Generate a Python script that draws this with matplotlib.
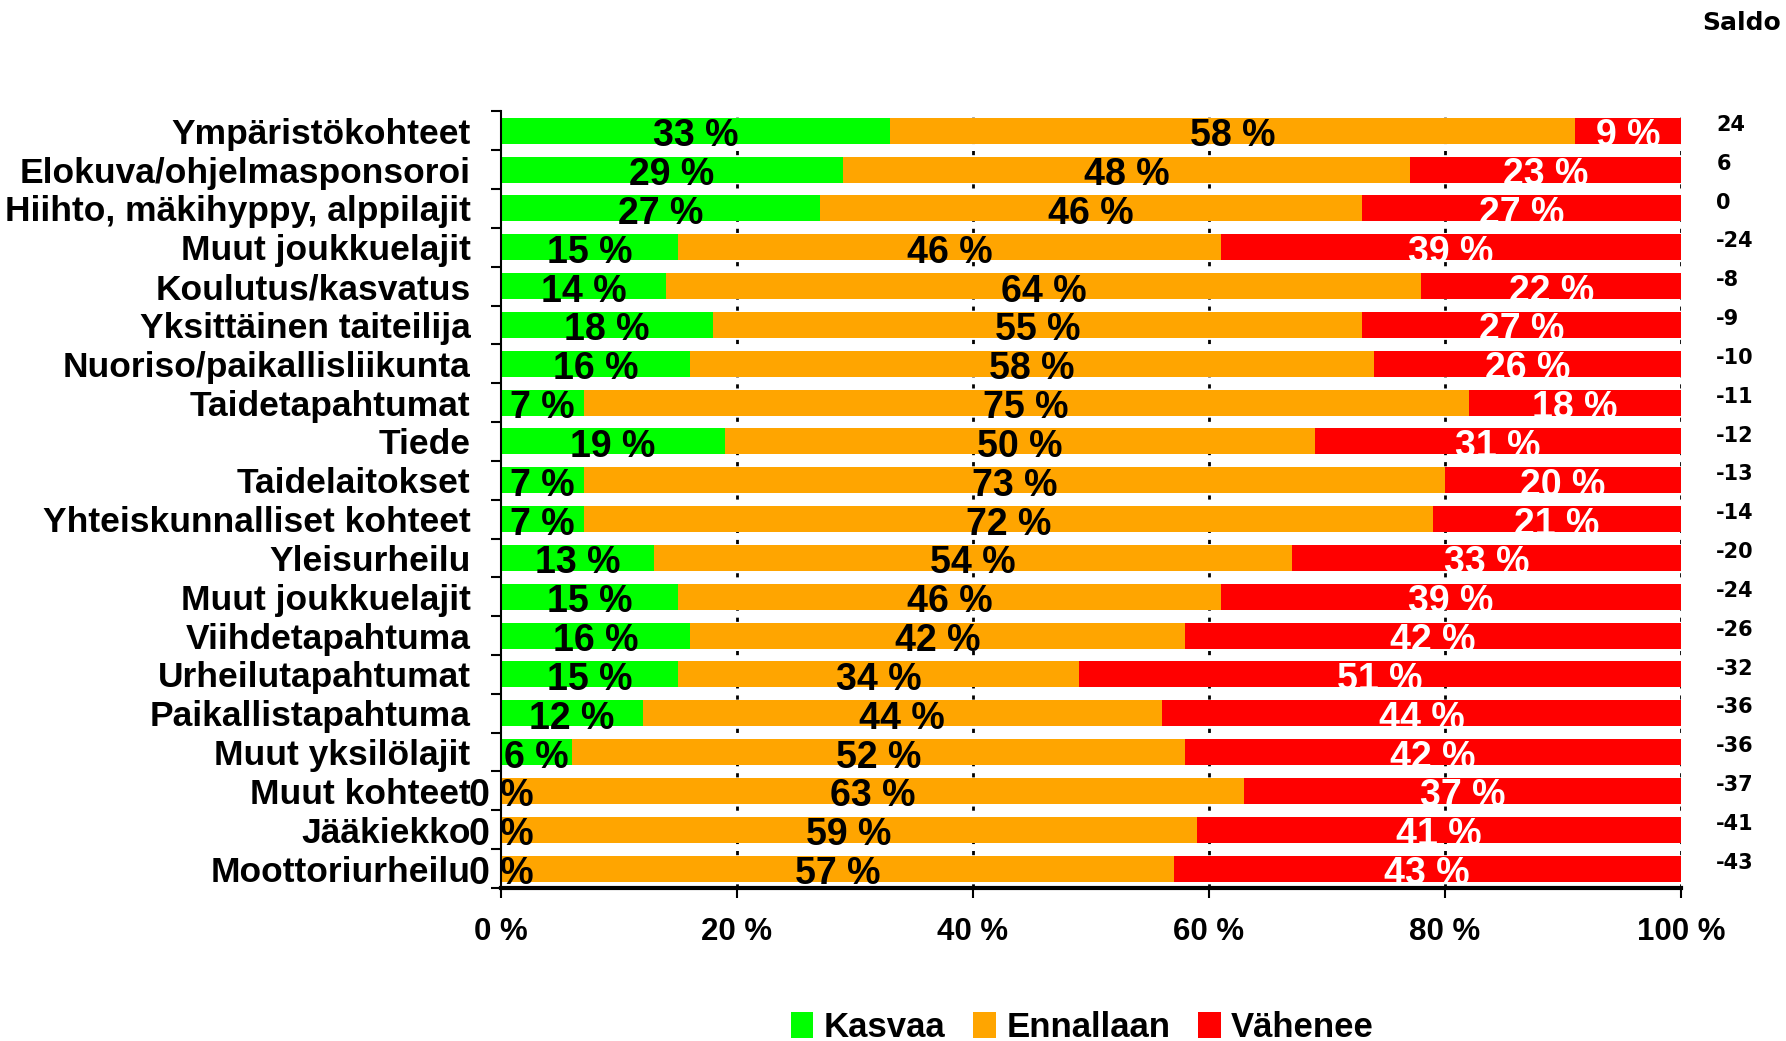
import matplotlib.pyplot as plt
from matplotlib.patches import Patch
from matplotlib.transforms import blended_transform_factory

plt.rcParams['font.family'] = ['Liberation Sans', 'DejaVu Sans']
plt.rcParams['font.weight'] = 'bold'

categories = [
    "Ympäristökohteet", "Elokuva/ohjelmasponsoroi", "Hiihto, mäkihyppy, alppilajit",
    "Muut joukkuelajit", "Koulutus/kasvatus", "Yksittäinen taiteilija",
    "Nuoriso/paikallisliikunta", "Taidetapahtumat", "Tiede", "Taidelaitokset",
    "Yhteiskunnalliset kohteet", "Yleisurheilu", "Muut joukkuelajit",
    "Viihdetapahtuma", "Urheilutapahtumat", "Paikallistapahtuma",
    "Muut yksilölajit", "Muut kohteet", "Jääkiekko", "Moottoriurheilu",
]
kasvaa = [33, 29, 27, 15, 14, 18, 16, 7, 19, 7, 7, 13, 15, 16, 15, 12, 6, 0, 0, 0]
ennallaan = [58, 48, 46, 46, 64, 55, 58, 75, 50, 73, 72, 54, 46, 42, 34, 44, 52, 63, 59, 57]
vahenee = [9, 23, 27, 39, 22, 27, 26, 18, 31, 20, 21, 33, 39, 42, 51, 44, 42, 37, 41, 43]
saldo = [24, 6, 0, -24, -8, -9, -10, -11, -12, -13, -14, -20, -24, -26, -32, -36, -36, -37, -41, -43]

series = [("Kasvaa", kasvaa, "#00FF00", "black"),
          ("Ennallaan", ennallaan, "#FFA500", "black"),
          ("Vähenee", vahenee, "#FF0000", "white")]

fig = plt.figure(figsize=(17.86, 10.41), dpi=100)
ax = fig.add_axes([0.2805, 0.147, 0.6607, 0.746])

y = list(range(len(categories)))
left = [0] * len(categories)
for name, vals, color, tcol in series:
    ax.barh(y, vals, left=left, height=0.67, color=color, zorder=2)
    for i, v in enumerate(vals):
        ax.text(left[i] + v / 2, i + 0.14, f"{v} %", ha="center", va="center",
                fontsize=27, fontweight="bold", color=tcol, zorder=3)
    left = [l + v for l, v in zip(left, vals)]

# dotted gridlines behind the bars
for gx in [20, 40, 60, 80, 100]:
    ax.axvline(gx, color="black", linestyle=(0, (1.5, 2.5)), linewidth=2, zorder=1)

ax.set_xlim(0, 100)
ax.set_ylim(len(categories) - 0.5, -0.5)
ax.set_xticks([0, 20, 40, 60, 80, 100])
ax.set_xticklabels([f"{t} %" for t in [0, 20, 40, 60, 80, 100]], fontsize=22.5, fontweight="bold")
ax.set_yticks(y)
ax.set_yticklabels(categories, fontsize=25.5, fontweight="bold")
ax.set_yticks([i - 0.5 for i in range(len(categories) + 1)], minor=True)
ax.tick_params(axis="y", which="major", length=0, pad=22)
ax.tick_params(axis="y", which="minor", length=7, width=1.5, direction="out")
ax.tick_params(axis="x", which="major", length=7, width=1.5, direction="out", pad=14)

ax.spines["top"].set_visible(False)
ax.spines["right"].set_visible(False)
ax.spines["left"].set_linewidth(1.5)
ax.spines["bottom"].set_linewidth(3)

# saldo column
trans = blended_transform_factory(fig.transFigure, ax.transData)
fig.text(0.953, 0.978, "Saldo", fontsize=18, fontweight="bold",
         family="DejaVu Sans", ha="left", va="center")
for i, s in enumerate(saldo):
    ax.text(0.961, i - 0.15, str(s), transform=trans, fontsize=15, fontweight="bold",
            family="DejaVu Sans", ha="left", va="center")

handles = [Patch(facecolor=c, label=n) for n, _, c, _ in series]
fig.legend(handles=handles, loc="center", bbox_to_anchor=(0.606, 0.013), ncol=3,
           frameon=False, prop={"size": 25, "weight": "bold"},
           handlelength=0.65, handleheight=0.8, handletextpad=0.3, columnspacing=0.8)

fig.savefig("out.png", dpi=100)
